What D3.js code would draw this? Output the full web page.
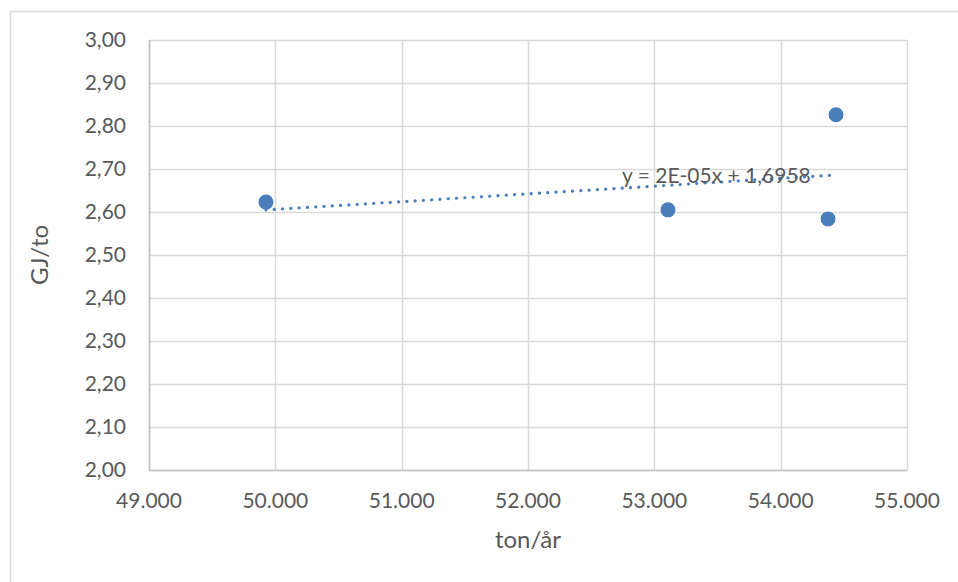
<!DOCTYPE html>
<html>
<head>
<meta charset="utf-8">
<script src="https://cdn.jsdelivr.net/npm/d3@7"></script>
<style>
  body { margin: 0; background: #fff; }
  text { font-family: Lato, "Open Sans", sans-serif; fill: #595959; }
</style>
</head>
<body>
<svg id="chart" width="958" height="582"></svg>
<script>
// Data
const tonnage = [49926, 53108, 54375, 54438];
const energy = [2.623, 2.605, 2.584, 2.826];
const xTicks = [49000, 50000, 51000, 52000, 53000, 54000, 55000];
const yTicks = [2.0, 2.1, 2.2, 2.3, 2.4, 2.5, 2.6, 2.7, 2.8, 2.9, 3.0];
const trendLabel = 'y = 2E-05x + 1,6958';

const width = 958;
const height = 582;
const margin = { top: 40, right: 51, bottom: 112, left: 149 };

function Draw_Scatter(){
    const svg = d3.select('#chart');

    // outer chart border (runs off right/bottom edges)
    svg.append('rect')
    .attr('x', 10.5).attr('y', 11.5)
    .attr('width', width).attr('height', height)
    .attr('fill', 'none')
    .attr('stroke', '#d9d9d9')
    .attr('stroke-width', 1.5);

    const x = d3.scaleLinear()
    .domain([49000, 55000])
    .range([margin.left, width - margin.right]);

    const y = d3.scaleLinear()
    .domain([2, 3])
    .range([height - margin.bottom, margin.top]);

    // gridlines
    svg.append('g')
    .selectAll('line.h')
    .data(yTicks)
    .enter()
    .append('line')
    .attr('x1', margin.left).attr('x2', width - margin.right)
    .attr('y1', d => Math.round(y(d)) + 0.5).attr('y2', d => Math.round(y(d)) + 0.5)
    .attr('stroke', '#d9d9d9')
    .attr('stroke-width', 1.5);

    svg.append('g')
    .selectAll('line.v')
    .data(xTicks)
    .enter()
    .append('line')
    .attr('y1', margin.top).attr('y2', height - margin.bottom)
    .attr('x1', d => Math.round(x(d)) + 0.5).attr('x2', d => Math.round(x(d)) + 0.5)
    .attr('stroke', '#d9d9d9')
    .attr('stroke-width', 1.5);

    // axis lines
    svg.append('line')
    .attr('x1', margin.left + 0.5).attr('x2', margin.left + 0.5)
    .attr('y1', margin.top).attr('y2', height - margin.bottom)
    .attr('stroke', '#bfbfbf').attr('stroke-width', 1.5);
    svg.append('line')
    .attr('x1', margin.left).attr('x2', width - margin.right)
    .attr('y1', height - margin.bottom + 0.5).attr('y2', height - margin.bottom + 0.5)
    .attr('stroke', '#bfbfbf').attr('stroke-width', 1.5);

    // tick labels
    const fmtY = d => d.toFixed(2).replace('.', ',');
    const fmtX = d => d3.format(',')(d).replace(/,/g, '.');

    svg.append('g')
    .selectAll('text')
    .data(yTicks)
    .enter()
    .append('text')
    .attr('x', 126)
    .attr('y', d => y(d))
    .attr('dy', '0.35em')
    .style('text-anchor', 'end')
    .style('font-size', '21px')
    .text(fmtY);

    svg.append('g')
    .selectAll('text')
    .data(xTicks)
    .enter()
    .append('text')
    .attr('x', d => x(d))
    .attr('y', 508)
    .style('text-anchor', 'middle')
    .style('font-size', '21px')
    .text(fmtX);

    // linear trendline (least squares)
    const mx = d3.mean(tonnage), my = d3.mean(energy);
    const slope = d3.sum(tonnage, (v, i) => (v - mx) * (energy[i] - my)) /
                  d3.sum(tonnage, v => (v - mx) * (v - mx));
    const intercept = my - slope * mx;
    const ext = d3.extent(tonnage);

    svg.append('line')
    .attr('x1', x(ext[0])).attr('y1', y(intercept + slope * ext[0]))
    .attr('x2', x(ext[1])).attr('y2', y(intercept + slope * ext[1]))
    .attr('stroke', '#4a7ebb')
    .attr('stroke-width', 3.2)
    .attr('stroke-linecap', 'round')
    .attr('stroke-dasharray', '0.1 8.2');

    // points
    svg.append('g')
    .selectAll('circle')
    .data(tonnage)
    .enter()
    .append('circle')
    .attr('cx', d => x(d))
    .attr('cy', (d, i) => y(energy[i]))
    .attr('r', 7.5)
    .attr('fill', '#4a7ebb');

    // trendline equation
    svg.append('text')
    .attr('x', 622)
    .attr('y', 183)
    .style('font-size', '21px')
    .text(trendLabel);

    // x-axis label
    svg.append('text')
    .attr('x', (margin.left + width - margin.right) / 2)
    .attr('y', 548)
    .style('text-anchor', 'middle')
    .style('font-size', '24px')
    .text('ton/år');

    // y-axis label
    svg.append('text')
    .attr('transform', `translate(48,${(margin.top + height - margin.bottom) / 2}) rotate(-90)`)
    .style('text-anchor', 'middle')
    .style('font-size', '24px')
    .text('GJ/to');
}

Draw_Scatter();
</script>
</body>
</html>
